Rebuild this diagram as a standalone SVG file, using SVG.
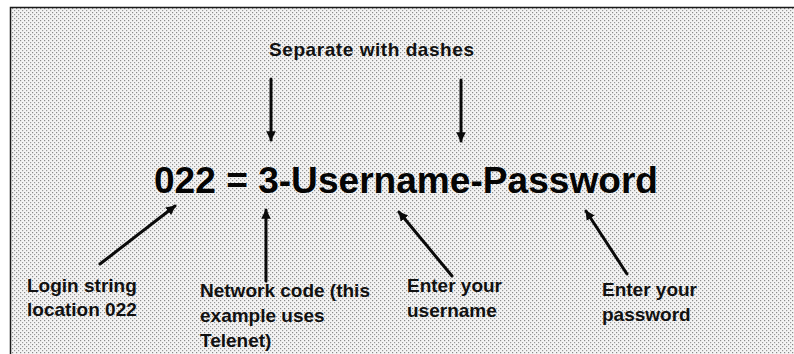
<svg xmlns="http://www.w3.org/2000/svg" width="794" height="354" viewBox="0 0 794 354">
  <style>
    .lbl { font-family: "Liberation Sans", Arial, sans-serif; font-weight: bold; font-size: 19px; fill: #111; }
    .main { font-family: "Liberation Sans", Arial, sans-serif; font-weight: bold; font-size: 37px; fill: #050505; }
    .conn { stroke: #0a0a0a; stroke-width: 3; fill: none; stroke-linecap: round; marker-end: url(#ah); }
  </style>
  <defs>
    <pattern id="dots" width="4" height="4" patternUnits="userSpaceOnUse">
      <rect width="4" height="4" fill="#f4f4f4"/>
      <rect x="0" y="0" width="1.2" height="1.2" fill="#8a8a8a"/>
      <rect x="2" y="2" width="1.2" height="1.2" fill="#9a9a9a"/>
    </pattern>
    <marker id="ah" viewBox="0 0 10 10" refX="9" refY="5" markerWidth="3.2" markerHeight="3.2" orient="auto" markerUnits="strokeWidth">
      <path d="M0,0 L10,5 L0,10 z" fill="#0a0a0a"/>
    </marker>
  </defs>
  <rect x="0" y="0" width="794" height="354" fill="#ffffff"/>
  <rect x="10" y="7" width="784" height="347" fill="url(#dots)"/>
  <path d="M10.5,354 L10.5,7.5 L794,7.5" stroke="#1a1a1a" stroke-width="1.5" fill="none"/>

  <g id="header">
    <text class="lbl" x="269" y="56" font-size="20" textLength="205">Separate with dashes</text>
  </g>
  <g id="main-string">
    <text class="main" x="154" y="193" textLength="504" lengthAdjust="spacingAndGlyphs">022 = 3-Username-Password</text>
  </g>
  <g id="login-label">
    <text class="lbl" x="27" y="292">Login string</text>
    <text class="lbl" x="27" y="316">location 022</text>
  </g>
  <g id="network-label">
    <text class="lbl" x="200" y="297">Network code (this</text>
    <text class="lbl" x="200" y="322">example uses</text>
    <text class="lbl" x="200" y="347">Telenet)</text>
  </g>
  <g id="username-label">
    <text class="lbl" x="407" y="292">Enter your</text>
    <text class="lbl" x="407" y="317">username</text>
  </g>
  <g id="password-label">
    <text class="lbl" x="602" y="296">Enter your</text>
    <text class="lbl" x="602" y="321">password</text>
  </g>

  <g id="connectors">
    <line class="conn" x1="271" y1="79" x2="271" y2="140"/>
    <line class="conn" x1="461" y1="80" x2="461" y2="141"/>
    <line class="conn" x1="100" y1="264" x2="175" y2="206"/>
    <line class="conn" x1="266" y1="281" x2="266" y2="210"/>
    <line class="conn" x1="452" y1="276" x2="399" y2="212"/>
    <line class="conn" x1="627" y1="274" x2="586" y2="211"/>
  </g>
</svg>
